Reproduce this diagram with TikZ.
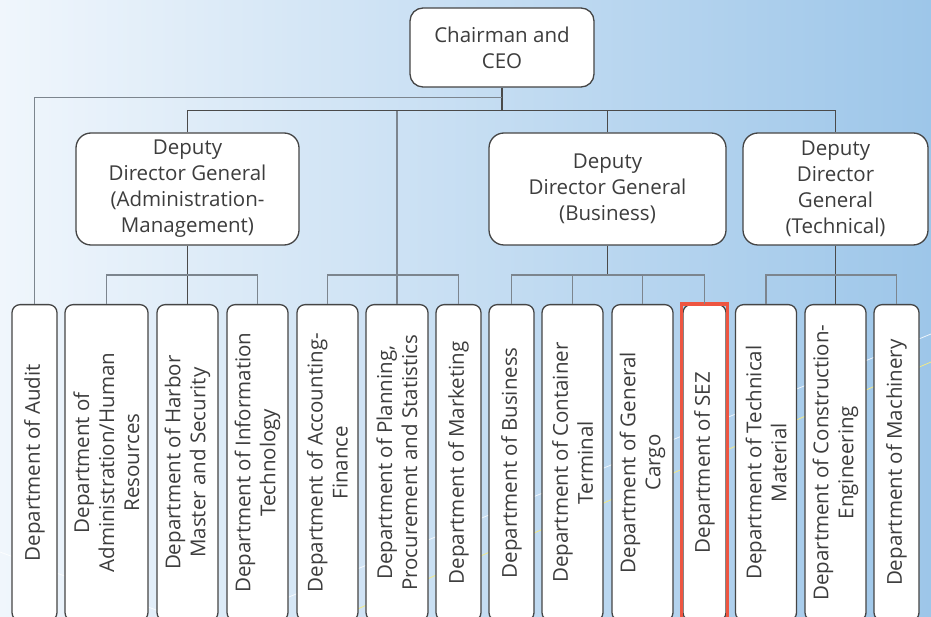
\documentclass[tikz,border=0pt]{standalone}
\usepackage{fontspec}
\setmainfont{Open Sans}
\usepackage{tikz}
\usetikzlibrary{positioning, calc}
\definecolor{Ink}{HTML}{3D3D3D}
\definecolor{Edge}{HTML}{454545}
\definecolor{LinkDark}{HTML}{4A4A4A}
\definecolor{LinkLight}{HTML}{7C858E}
\definecolor{SezRed}{HTML}{EE5541}
\definecolor{SkyLeft}{HTML}{F0F6FC}
\definecolor{SkyMid}{HTML}{BBD8F1}
\definecolor{SkyRight}{HTML}{9DC6E9}
\definecolor{Streak}{HTML}{F2EA86}

\begin{document}
\begin{tikzpicture}[x=1pt, y=-1pt,
    boss/.style={draw=Edge, fill=white, line width=1.3pt, rounded corners=13pt,
                 align=center, text=Ink, inner sep=0pt,
                 font=\fontsize{20.5}{26}\selectfont},
    dept/.style={boss, rounded corners=8pt, rotate=90, anchor=east,
                 minimum width=316pt, font=\fontsize{20.5}{25}\selectfont},
    trunk/.style={draw=LinkDark, line width=1.1pt},
    twig/.style={draw=LinkLight, line width=1.1pt}]

\useasboundingbox (0,0) rectangle (931,617);
\clip (0,0) rectangle (931,617);
\shade[left color=SkyLeft, middle color=SkyMid, right color=SkyRight]
    (0,0) rectangle (931,617);
\draw[white, opacity=.8, line width=.8pt] (240,617) -- (931,334);
\draw[white, opacity=.8, line width=.8pt] (0,552) -- (175,617);
\draw[Streak, line width=.8pt] (339,617) -- (931,362);

% top levels
\node[boss, minimum width=184pt, minimum height=79pt] (ceo) at (502,47.5)
    {Chairman and\\CEO};
\node[boss, minimum width=223pt, minimum height=112pt, rounded corners=15pt]
    (ddgadm) at (187.5,189)
    {Deputy\\Director General\\(Administration-\\Management)};
\node[boss, minimum width=237pt, minimum height=112pt, rounded corners=15pt]
    (ddgbiz) at (607.5,189)
    {Deputy\\Director General\\(Business)};
\node[boss, minimum width=185pt, minimum height=112pt, rounded corners=15pt]
    (ddgtech) at (835.5,189)
    {Deputy\\Director\\General\\(Technical)};

% departments
\node[dept, minimum height=45pt] (audit)   at (34.5,304)  {Department of Audit};
\node[dept, minimum height=83pt] (admhr)   at (106.5,304) {Department of\\Administration/Human\\Resources};
\node[dept, minimum height=61pt] (harbor)  at (187.5,304) {Department of Harbor\\Master and Security};
\node[dept, minimum height=61pt] (infotech) at (257.5,304) {Department of Information\\Technology};
\node[dept, minimum height=61pt] (acct)    at (327.5,304) {Department of Accounting-\\Finance};
\node[dept, minimum height=62pt] (plan)    at (397,304)   {Department of Planning,\\Procurement and Statistics};
\node[dept, minimum height=45pt] (mkt)     at (458.5,304) {Department of Marketing};
\node[dept, minimum height=45pt] (biz)     at (511.5,304) {Department of Business};
\node[dept, minimum height=61pt] (cont)    at (572.5,304) {Department of Container\\Terminal};
\node[dept, minimum height=61pt] (cargo)   at (642.5,304) {Department of General\\Cargo};
\node[dept, minimum height=43pt] (sez)     at (704.5,304) {Department of SEZ};
\node[dept, minimum height=61pt] (techmat) at (766,304)   {Department of Technical\\Material};
\node[dept, minimum height=61pt] (constr)  at (835.5,304) {Department of Construction-\\Engineering};
\node[dept, minimum height=45pt] (mach)    at (896.5,304) {Department of Machinery};
\draw[SezRed, line width=3.5pt]
    ([xshift=-1pt]sez.north |- sez.east) rectangle ([xshift=1pt]sez.south |- sez.west);

% connectors
\coordinate (hub) at ($(ceo.south)+(0,23)$);
\coordinate (ceobus) at ($(ceo.south)+(0,10)$);
\draw[trunk] (ceo.south) -- (hub);
\draw[twig] (audit.east) |- (ceobus);
\draw[trunk] (ddgadm.north) -- (ddgadm.north |- hub) -| (ddgtech.north);
\draw[trunk] (ddgbiz.north) -- (ddgbiz.north |- hub);
\draw[twig] (plan.east) -- (plan.east |- hub);
\draw[twig] (acct.east) -- ++(0,-29) -| (mkt.east);

\draw[trunk] (ddgadm.south) -- (harbor.east);
\draw[twig] (admhr.east) -- ++(0,-29) -| (infotech.east);

\draw[trunk] (ddgbiz.south) -- ++(0,30);
\draw[twig] (biz.east) -- ++(0,-29) -| (sez.east);
\draw[twig] (cont.east) -- ++(0,-29);
\draw[twig] (cargo.east) -- ++(0,-29);

\draw[trunk] (ddgtech.south) -- (constr.east);
\draw[twig] (techmat.east) -- ++(0,-29) -| (mach.east);
\end{tikzpicture}
\end{document}
